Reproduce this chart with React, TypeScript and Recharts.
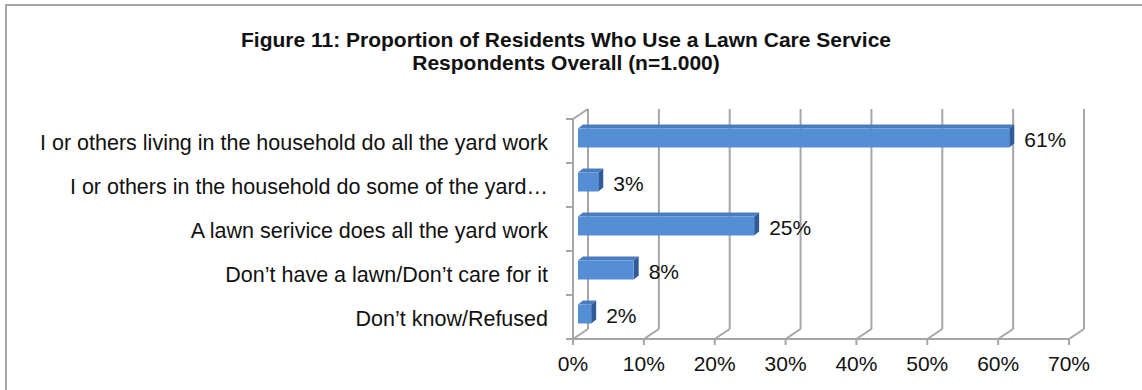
import React from "react";
import { BarChart, Bar, XAxis, YAxis, CartesianGrid, LabelList } from "recharts";

const categories = [
  "I or others living in the household do all the yard work",
  "I or others in the household do some of the yard…",
  "A lawn serivice does all the yard work",
  "Don’t have a lawn/Don’t care for it",
  "Don’t know/Refused",
];
const values = [61, 3, 25, 8, 2];
const xTicks = [0, 10, 20, 30, 40, 50, 60, 70];
const titleLines = [
  "Figure 11: Proportion of Residents Who Use a Lawn Care Service",
  "Respondents Overall (n=1.000)",
];

const data = categories.map((c, i) => ({ label: c, value: values[i] }));

const FONT = "'Liberation Sans', Arial, Helvetica, sans-serif";
const GRID = "#a6a6a6";
const DX = 15;
const DY = 10;

const GridLine = (props: any) => {
  const { x1, y1, y2, index } = props;
  return (
    <g>
      <line x1={x1 + DX} y1={y1 - DY} x2={x1 + DX} y2={y2 - DY} stroke={GRID} strokeWidth={2} />
      <line x1={x1 + DX} y1={y2 - DY} x2={x1} y2={y2} stroke={GRID} strokeWidth={2} />
      {index === 0 ? (
        <line x1={x1} y1={y1} x2={x1 + DX} y2={y1 - DY} stroke={GRID} strokeWidth={2} />
      ) : null}
    </g>
  );
};

const Bar3D = (props: any) => {
  const { x, y, width, height } = props;
  const cy = y + height / 2 - 3.5;
  const h = 19;
  const top = cy - h / 2;
  const bottom = cy + h / 2;
  const x0 = x + 5;
  const x1 = x + width + 4;
  const d = 5;
  const dy = 4;
  return (
    <g>
      <polygon
        points={`${x0},${top} ${x0 + d},${top - dy} ${x1 + d},${top - dy} ${x1},${top}`}
        fill="#4a7cc0"
      />
      <polygon
        points={`${x1},${top} ${x1 + d},${top - dy} ${x1 + d},${bottom - dy} ${x1},${bottom}`}
        fill="#2f5c99"
      />
      <rect x={x0} y={top} width={Math.max(0, x1 - x0)} height={h} fill="#558ed5" />
    </g>
  );
};

const YTick = (props: any) => {
  const { y, payload, index } = props;
  const half = payload && payload.offset ? payload.offset : 22;
  const axisX = 573;
  return (
    <g>
      <line x1={axisX - 7} y1={y - half} x2={axisX} y2={y - half} stroke={GRID} strokeWidth={2} />
      {index === categories.length - 1 ? (
        <line x1={axisX - 7} y1={y + half} x2={axisX} y2={y + half} stroke={GRID} strokeWidth={2} />
      ) : null}
      <text
        x={axisX - 25}
        y={y + 2}
        textAnchor="end"
        dominantBaseline="central"
        fontFamily={FONT}
        fontSize={21.5}
        fill="#111"
      >
        {payload.value}
      </text>
    </g>
  );
};

const XTick = (props: any) => {
  const { x, y, payload } = props;
  return (
    <text
      x={x}
      y={y + 16}
      textAnchor="middle"
      dominantBaseline="central"
      fontFamily={FONT}
      fontSize={21}
      fill="#111"
    >
      {payload.value + "%"}
    </text>
  );
};

const ValueLabel = (props: any) => {
  const { x, y, width, height, value } = props;
  return (
    <text
      x={x + width + 19}
      y={y + height / 2 - 2}
      textAnchor="start"
      dominantBaseline="central"
      fontFamily={FONT}
      fontSize={21}
      fill="#111"
    >
      {value + "%"}
    </text>
  );
};

export default function App() {
  return (
    <div
      style={{
        position: "absolute",
        left: 0,
        top: 0,
        width: 1142,
        height: 390,
        background: "#fff",
        overflow: "hidden",
      }}
    >
      <div
        style={{
          position: "absolute",
          left: 5,
          top: 4,
          width: 1137,
          height: 2,
          background: GRID,
        }}
      />
      <div
        style={{
          position: "absolute",
          left: 5,
          top: 4,
          width: 2,
          height: 386,
          background: GRID,
        }}
      />
      {titleLines.map((t, i) => (
        <div
          key={i}
          style={{
            position: "absolute",
            left: 0,
            width: 1132,
            top: 28 + i * 23,
            textAlign: "center",
            fontFamily: FONT,
            fontWeight: "bold",
            fontSize: 21,
            lineHeight: "24px",
            color: "#111",
          }}
        >
          {t}
        </div>
      ))}
      <div style={{ position: "absolute", left: 0, top: 0 }}>
        <BarChart
          width={1142}
          height={390}
          data={data}
          layout="vertical"
          margin={{ top: 119, right: 73, bottom: 0, left: 0 }}
          barCategoryGap={0}
        >
          <CartesianGrid horizontal={false} vertical={GridLine} stroke={GRID} />
          <XAxis
            type="number"
            domain={[0, 70]}
            ticks={xTicks}
            interval={0}
            height={51}
            axisLine={{ stroke: GRID, strokeWidth: 2 }}
            tickLine={{ stroke: GRID, strokeWidth: 2 }}
            tickSize={6}
            tick={XTick}
          />
          <YAxis
            type="category"
            dataKey="label"
            width={573}
            axisLine={{ stroke: GRID, strokeWidth: 2 }}
            tickLine={false}
            tick={YTick}
            interval={0}
          />
          <Bar dataKey="value" barSize={19} shape={Bar3D} isAnimationActive={false}>
            <LabelList dataKey="value" content={ValueLabel} />
          </Bar>
        </BarChart>
      </div>
    </div>
  );
}
